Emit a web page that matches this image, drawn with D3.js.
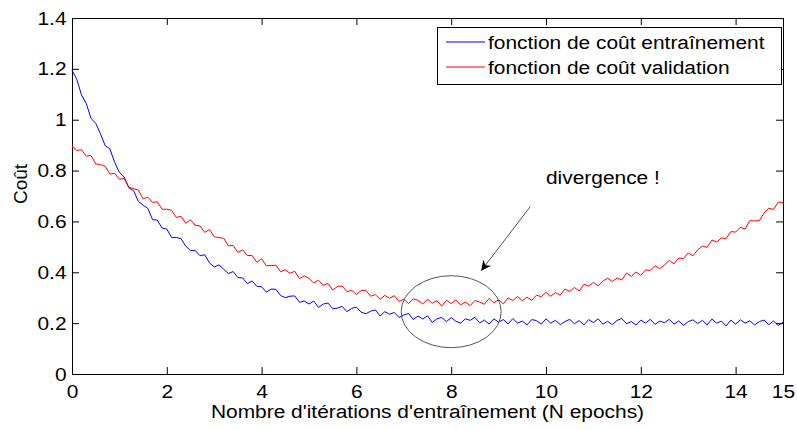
<!DOCTYPE html>
<html><head><meta charset="utf-8">
<script src="https://cdn.jsdelivr.net/npm/d3@7"></script>
<style>
body{margin:0;background:#fff}
svg{display:block}
text{font-family:"Liberation Sans",Arial,Helvetica,sans-serif;fill:#000}
</style>
</head><body>
<svg id="chart" width="797" height="430"></svg>
<script>
// ---- data ----
const epochStep = 0.1;
const seriesNames = ["fonction de coût entraînement", "fonction de coût validation"];
const trainCost = [
1.195,1.159,1.098,1.064,1.006,0.986,0.945,0.898,0.885,0.832,
0.793,0.775,0.732,0.721,0.678,0.664,0.651,0.607,0.605,0.574,
0.570,0.537,0.537,0.532,0.503,0.485,0.486,0.465,0.469,0.437,
0.421,0.429,0.412,0.395,0.403,0.379,0.378,0.355,0.366,0.345,
0.343,0.322,0.334,0.333,0.309,0.300,0.306,0.307,0.282,0.287,
0.275,0.287,0.262,0.275,0.279,0.257,0.259,0.266,0.245,0.258,
0.263,0.243,0.237,0.247,0.252,0.228,0.245,0.235,0.242,0.222,
0.232,0.238,0.214,0.228,0.216,0.229,0.203,0.217,0.222,0.206,
0.222,0.207,0.200,0.217,0.211,0.223,0.201,0.212,0.196,0.217,
0.204,0.214,0.197,0.218,0.200,0.208,0.193,0.214,0.210,0.196,
0.217,0.200,0.211,0.194,0.206,0.215,0.198,0.210,0.193,0.214,
0.202,0.217,0.196,0.207,0.194,0.211,0.218,0.198,0.206,0.193,
0.212,0.200,0.215,0.195,0.208,0.202,0.215,0.196,0.209,0.191,
0.206,0.213,0.198,0.211,0.193,0.216,0.200,0.208,0.189,0.212,
0.196,0.213,0.200,0.209,0.193,0.206,0.212,0.194,0.208,0.191,
0.203];
const validCost = [
0.897,0.879,0.882,0.857,0.859,0.826,0.824,0.817,0.786,0.789,
0.766,0.769,0.734,0.729,0.723,0.689,0.695,0.675,0.677,0.648,
0.648,0.644,0.616,0.620,0.593,0.606,0.585,0.582,0.557,0.568,
0.540,0.536,0.534,0.504,0.505,0.478,0.488,0.466,0.466,0.439,
0.453,0.426,0.426,0.428,0.402,0.410,0.396,0.404,0.375,0.386,
0.376,0.358,0.369,0.349,0.356,0.330,0.344,0.346,0.324,0.329,
0.313,0.328,0.329,0.306,0.312,0.294,0.309,0.298,0.308,0.285,
0.294,0.277,0.296,0.290,0.275,0.294,0.278,0.288,0.267,0.290,
0.277,0.291,0.272,0.283,0.269,0.289,0.283,0.274,0.297,0.280,
0.292,0.276,0.299,0.289,0.305,0.288,0.302,0.290,0.310,0.304,
0.321,0.306,0.320,0.310,0.334,0.325,0.340,0.326,0.353,0.346,
0.360,0.347,0.365,0.377,0.364,0.377,0.370,0.397,0.384,0.401,
0.388,0.409,0.407,0.426,0.414,0.429,0.447,0.433,0.456,0.454,
0.476,0.465,0.488,0.503,0.498,0.527,0.519,0.535,0.532,0.560,
0.558,0.577,0.570,0.603,0.602,0.603,0.633,0.652,0.647,0.676,
0.674];
const xTicks = [0,2,4,6,8,10,12,14,15];
const yTicks = [0,0.2,0.4,0.6,0.8,1,1.2,1.4];
const xLabel = "Nombre d'itérations d'entraînement (N epochs)";
const yLabel = "Coût";
const annotationText = "divergence !";
const annotationPoint = {x: 8, y: 0.245};

// ---- layout ----
const L = 72, R = 783, T = 18, B = 374;
const FS = 19;
const SX = 1.1; // horizontal text stretch
const svg = d3.select("#chart");
const x = d3.scaleLinear().domain([0,15]).range([L,R]);
const y = d3.scaleLinear().domain([0,1.4]).range([B,T]);

const stretch = sel => sel.each(function(){
  const t = d3.select(this);
  t.attr("transform", (t.attr("transform")||"") + ` scale(${SX},1)`);
});
const stretchAt = (sel, ax) => sel.attr("transform",`translate(${ax},0) scale(${SX},1) translate(${-ax},0)`);

// axes
const gx = svg.append("g").attr("transform",`translate(0,${B})`)
  .call(d3.axisBottom(x).tickValues(xTicks).tickFormat(d3.format("d")).tickSizeInner(-7).tickSizeOuter(0).tickPadding(11));
const gy = svg.append("g").attr("transform",`translate(${L},0)`)
  .call(d3.axisLeft(y).tickValues(yTicks).tickFormat(d=>String(+d.toFixed(1))).tickSizeInner(-7).tickSizeOuter(0).tickPadding(5));
const gt = svg.append("g").attr("transform",`translate(0,${T})`)
  .call(d3.axisTop(x).tickValues(xTicks).tickFormat("").tickSizeInner(-7).tickSizeOuter(0));
const gr = svg.append("g").attr("transform",`translate(${R},0)`)
  .call(d3.axisRight(y).tickValues(yTicks).tickFormat("").tickSizeInner(-7).tickSizeOuter(0));
[gx,gy,gt,gr].forEach(g=>{
  g.select(".domain").remove();
  g.selectAll("line").attr("stroke","#000");
  g.selectAll("text").attr("font-size",FS).attr("font-family",'"Liberation Sans",Arial,sans-serif').attr("fill","#000").call(stretch);
});
svg.append("rect").attr("x",L).attr("y",T).attr("width",R-L).attr("height",B-T)
  .attr("fill","none").attr("stroke","#000").attr("stroke-width",1).attr("shape-rendering","crispEdges");

// lines
const line = d3.line().x((d,i)=>x(i*epochStep)).y(d=>y(d));
svg.append("path").datum(trainCost).attr("d",line).attr("fill","none").attr("stroke","#0000ff").attr("stroke-width",1);
svg.append("path").datum(validCost).attr("d",line).attr("fill","none").attr("stroke","#ff0000").attr("stroke-width",1);

// labels
svg.append("text").attr("x",(L+R)/2).attr("y",418).attr("text-anchor","middle").attr("font-size",FS)
  .text(xLabel).call(stretchAt,(L+R)/2);
svg.append("text").attr("transform","translate(27,184) rotate(-90)").attr("text-anchor","middle").attr("font-size",FS).text(yLabel);

// annotation
const cx = x(annotationPoint.x), cy = y(annotationPoint.y);
svg.append("ellipse").attr("cx",cx).attr("cy",cy).attr("rx",50).attr("ry",36)
  .attr("fill","none").attr("stroke","#555").attr("stroke-width",1);
svg.append("defs").append("marker").attr("id","arr").attr("viewBox","0 0 10 10").attr("refX",10).attr("refY",5)
  .attr("markerWidth",14).attr("markerHeight",10).attr("markerUnits","userSpaceOnUse").attr("orient","auto")
  .append("path").attr("d","M0,0 L10,5 L0,10 L3,5 Z").attr("fill","#000");
svg.append("line").attr("x1",cx+79).attr("y1",cy-105).attr("x2",cx+30).attr("y2",cy-41)
  .attr("stroke","#555").attr("stroke-width",1).attr("marker-end","url(#arr)");
svg.append("text").attr("x",546).attr("y",184).attr("font-size",FS).text(annotationText).call(stretchAt,546);

// legend
const lg = svg.append("g");
lg.append("rect").attr("x",437).attr("y",27).attr("width",344).attr("height",57)
  .attr("fill","#fff").attr("stroke","#000").attr("shape-rendering","crispEdges");
const colors = ["#0000ff","#ff0000"];
seriesNames.forEach((n,i)=>{
  const yy = 42 + i*25;
  lg.append("line").attr("x1",446).attr("x2",485).attr("y1",yy).attr("y2",yy).attr("stroke",colors[i]);
  lg.append("text").attr("x",488).attr("y",yy).attr("dy","0.35em").attr("font-size",FS).text(n).call(stretchAt,488);
});
</script>
</body></html>
